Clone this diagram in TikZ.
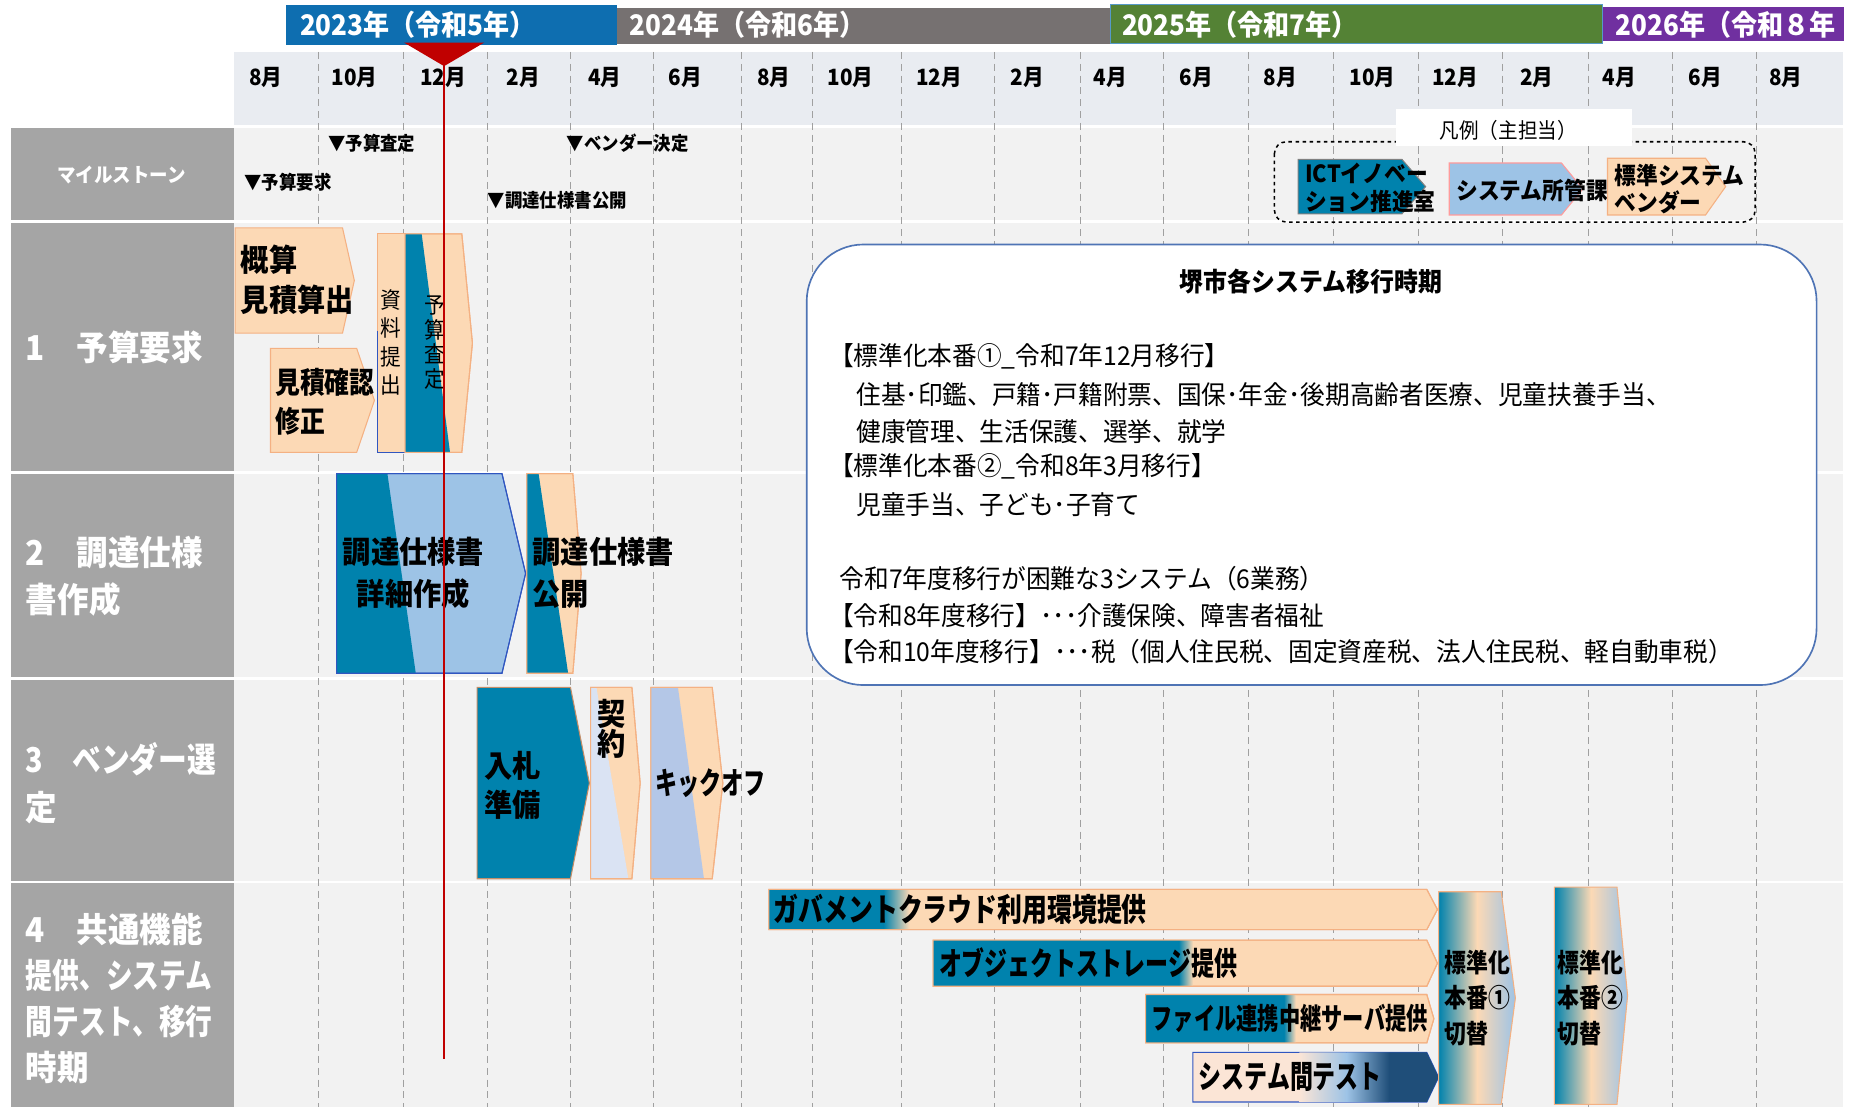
\documentclass[tikz,border=0pt]{standalone}
\usepackage{fontspec}
\setmainfont{Noto Sans CJK JP}
\newfontfamily\jpA[FakeStretch=0.92]{Noto Sans CJK JP}
\newfontfamily\jpB[FakeStretch=0.84]{Noto Sans CJK JP}
\newfontfamily\jpC[FakeStretch=0.78]{Noto Sans CJK JP}
\newfontfamily\jpD[FakeStretch=0.72]{Noto Sans CJK JP}
\newfontfamily\jpE[FakeStretch=0.95]{Noto Sans CJK JP}
\newcommand\fs[2]{\fontsize{#1}{#2}\selectfont}
\definecolor{cTeal}{HTML}{0082AD}
\definecolor{cPeach}{HTML}{FCD9B5}
\definecolor{cPeachL}{HTML}{FBE5D6}
\definecolor{cOrange}{HTML}{F4B183}
\definecolor{cLblue}{HTML}{9DC3E6}
\definecolor{cPink}{HTML}{FF9B9B}
\definecolor{cGrayLab}{HTML}{A5A5A5}
\definecolor{cBg}{HTML}{F2F2F2}
\definecolor{cBand}{HTML}{E9ECF1}
\definecolor{cRed}{HTML}{C00000}
\definecolor{cNavy}{HTML}{1F4E79}
\definecolor{cLav}{HTML}{DAE3F3}
\definecolor{cBgray}{HTML}{B4C7E7}
\definecolor{cBanBlue}{HTML}{0E6EB0}
\definecolor{cBanGray}{HTML}{767171}
\definecolor{cBanGreen}{HTML}{548235}
\definecolor{cBanPurple}{HTML}{7030A0}
\definecolor{cGrid}{HTML}{A0A0A0}
\definecolor{cBoxBorder}{HTML}{4F74B5}
\definecolor{cBlueEdge}{HTML}{3056C0}
\tikzset{
  tx/.style={inner sep=0pt, outer sep=0pt, anchor=west, align=left},
  banner/.style={tx, text=white, font=\jpA\bfseries\fs{24}{28}},
  month/.style={inner sep=0pt, font=\jpA\bfseries\fs{19}{22}},
  rowlab/.style={tx, text=white, font=\jpA\bfseries\fs{29}{40}},
  milelab/.style={inner sep=0pt, text=white, font=\jpA\bfseries\fs{17}{20}},
  mile/.style={tx, font=\jpA\bfseries\fs{16}{18}},
  boxtxt/.style={tx, font=\jpA\bfseries\fs{26}{34}},
  vtxt/.style={inner sep=0pt, align=center, font=\jpA\fs{19}{24}},
  legtxt/.style={tx, font=\jpA\bfseries\fs{20}{24}},
  bodytxt/.style={tx, font=\jpE\fs{22}{26}},
  gridln/.style={cGrid, line width=0.8, dash pattern=on 6pt off 4pt},
  pch/.style={fill=cPeach, draw=cOrange, line width=0.9},
  tealbox/.style={fill=cTeal, draw=cOrange!80!black, line width=0.9},
  lbbox/.style={fill=cLblue, draw=cBlueEdge, line width=0.9},
  bigbox/.style={fill=white, draw=cBoxBorder, line width=1.4, rounded corners=48},
}
\newcommand\chev[6]{\path[#1] (#2,#3) -- (#4,#3) -- (#6,{(#3+#5)/2}) -- (#4,#5) -- (#2,#5) -- cycle;}
\newcommand\chevsplit[9]{%
  \path[#1] (#2,#3) -- (#4,#3) -- (#6,{(#3+#5)/2}) -- (#4,#5) -- (#2,#5) -- cycle;
  \begin{scope}
    \clip (#2,#3) -- (#4,#3) -- (#6,{(#3+#5)/2}) -- (#4,#5) -- (#2,#5) -- cycle;
    \fill[#7] (#2,#3) -- (#8,#3) -- (#9,#5) -- (#2,#5) -- cycle;
  \end{scope}
  \path[#1,fill=none] (#2,#3) -- (#4,#3) -- (#6,{(#3+#5)/2}) -- (#4,#5) -- (#2,#5) -- cycle;}
\newcommand\chevbar[9]{%
  \path[#1] (#2,#3) -- (#4,#3) -- (#6,{(#3+#5)/2}) -- (#4,#5) -- (#2,#5) -- cycle;
  \begin{scope}
    \clip (#2,#3) -- (#4,#3) -- (#6,{(#3+#5)/2}) -- (#4,#5) -- (#2,#5) -- cycle;
    \fill[#7] (#2,#3) rectangle (#8,#5);
    \shade[left color=#7, right color=cPeach] (#8,#3) rectangle (#9,#5);
  \end{scope}
  \path[#1,fill=none] (#2,#3) -- (#4,#3) -- (#6,{(#3+#5)/2}) -- (#4,#5) -- (#2,#5) -- cycle;}
\newcommand\chevstd[5]{%
  \begin{scope}
    \clip (#1,#2) -- (#3,#2) -- (#5,{(#2+#4)/2}) -- (#3,#4) -- (#1,#4) -- cycle;
    \shade[left color=cTeal, right color=cLblue, middle color=cPeach] (#1,#2) rectangle (#5,#4);
  \end{scope}
  \draw[cOrange, line width=0.9] (#1,#2) -- (#3,#2) -- (#5,{(#2+#4)/2}) -- (#3,#4) -- (#1,#4) -- cycle;}
\begin{document}
\begin{tikzpicture}[x=1pt,y=-1pt]
\useasboundingbox (0,0) rectangle (1568,937);
\fill[white] (0,0) rectangle (1568,937);
% backgrounds
\fill[cBand] (198,44) rectangle (1560,106);
\fill[cBg] (198,108) rectangle (1560,186);
\fill[cBg] (198,189) rectangle (1560,399);
\fill[cBg] (198,401) rectangle (1560,573);
\fill[cBg] (198,576) rectangle (1560,746);
\fill[cBg] (198,748) rectangle (1560,937);
\fill[cGrayLab] (9,108) rectangle (198,186);
\fill[cGrayLab] (9,189) rectangle (198,399);
\fill[cGrayLab] (9,401) rectangle (198,573);
\fill[cGrayLab] (9,576) rectangle (198,746);
\fill[cGrayLab] (9,748) rectangle (198,937);
% grid
\foreach \gx in {270,342,413,483,553,628,688,763,842,915,985,1057,1129,1201,1272,1345,1416,1487}
  \draw[gridln] (\gx,44) -- (\gx,937);
% months
\foreach \mx/\mm [count=\mi] in {225/8,300/10,375/12,443/2,512/4,580/6,655/8,720/10,795/12,870/2,940/4,1013/6,1084/8,1162/10,1232/12,1301/2,1371/4,1444/6,1512/8}
  \node[month] (mon\mi) at (\mx,66) {\mm 月};
% banners
\fill[cBanBlue] (242,4) rectangle (522,38);
\fill[cBanGray] (522,7) rectangle (940,37);
\fill[cBanGreen] (940,4) rectangle (1357,37);
\fill[cBanPurple] (1357,6) rectangle (1561,35);
\draw[cBanBlue!70, line width=1] (940,4) rectangle (1357,37);
\node[banner] (b23) at (254,21) {2023年（令和5年）};
\node[banner] (b24) at (533,21) {2024年（令和6年）};
\node[banner] (b25) at (950,21) {2025年（令和7年）};
\node[banner] (b26) at (1368,21) {2026年（令和８年};
\fill[cRed] (342,36) -- (410,36) -- (376,56) -- cycle;
% row labels
\node[milelab] (lab0) at (103,148) {マイルストーン};
\node[rowlab] (lab1) at (22,294) {1　予算要求};
\node[rowlab] (lab2) at (22,488) {2　調達仕様\\書作成};
\node[rowlab] (lab3) at (22,663) {{\jpB 3　ベンダー選}\\定};
\node[rowlab, font=\jpA\bfseries\fs{29}{39}] (lab4) at (22,845) {4　共通機能\\{\jpC 提供、システム}\\{\jpC 間テスト、移行}\\時期};
% milestones
\node[mile] (ms1) at (278,121) {▼予算査定};
\node[mile] (ms2) at (480,121) {▼ベンダー決定};
\node[mile] (ms3) at (207,154) {▼予算要求};
\node[mile] (ms4) at (413,170) {▼調達仕様書公開};
% legend
\draw[dashed, line width=1.3, rounded corners=10] (1079,120) rectangle (1486,188);
\fill[white] (1182,92) rectangle (1382,124);
\node[inner sep=0pt, font=\jpA\fs{18}{20}] (legt) at (1277,110) {凡例（主担当）};
\chev{fill=cTeal, draw=gray, line width=0.9}{1099}{135}{1187}{181}{1207}
\node[legtxt] (leg1) at (1105,159) {ICTイノベー\\ション推進室};
\chev{fill=cLblue, draw=cPink, line width=0.9}{1227}{138}{1322}{182}{1340}
\node[legtxt] (leg2) at (1233,161) {システム所管課};
\chev{pch}{1361}{134}{1444}{182}{1461}
\node[legtxt, font=\jpA\bfseries\fs{20}{23}] (leg3) at (1367,160) {標準システム\\ベンダー};
% big box
\draw[bigbox] (683,207) rectangle (1538,580);
\node[inner sep=0pt, font=\jpA\bfseries\fs{22}{26}] (bt) at (1110,238) {堺市各システム移行時期};
\node[bodytxt] (bx1) at (702,302) {【標準化本番①\_令和7年12月移行】};
\node[bodytxt] (bx2) at (725,334) {住基･印鑑、戸籍･戸籍附票、国保･年金･後期高齢者医療、児童扶養手当、};
\node[bodytxt] (bx3) at (725,365) {健康管理、生活保護、選挙、就学};
\node[bodytxt] (bx4) at (702,395) {【標準化本番②\_令和8年3月移行】};
\node[bodytxt] (bx5) at (725,427) {児童手当、子ども･子育て};
\node[bodytxt] (bx6) at (711,490) {令和7年度移行が困難な3システム（6業務）};
\node[bodytxt] (bx7) at (702,521) {【令和8年度移行】･･･介護保険、障害者福祉};
\node[bodytxt] (bx8) at (702,552) {【令和10年度移行】･･･税（個人住民税、固定資産税、法人住民税、軽自動車税）};
% row 1
\chev{pch}{199}{193}{290}{282}{300}
\node[boxtxt] (t1a) at (204,237) {概算\\見積算出};
\chev{pch}{229}{295}{302}{383}{317}
\node[boxtxt, font=\jpB\bfseries\fs{25}{33}] (t1b) at (233,340) {見積確認\\修正};
\path[pch] (320,198) rectangle (343,383);
\draw[cBlueEdge, line width=0.9] (320,280) -- (320,383) -- (343,383);
\node[vtxt] (t1c) at (331,290) {資\\料\\提\\出};
\chevsplit{pch}{343}{198}{391}{383}{400}{cTeal}{357}{381}
\node[vtxt, font=\jpA\fs{19}{21}] (t1d) at (368,290) {予\\算\\査\\定};
% row 2
\chevsplit{lbbox}{285}{401}{425}{570}{445}{cTeal}{328}{352}
\node[boxtxt, align=center, anchor=center, font=\jpA\bfseries\fs{26}{35}] (t2a) at (350,485) {調達仕様書\\詳細作成};
\chevsplit{pch}{446}{401}{485}{570}{492}{cTeal}{456}{481}
\node[boxtxt, font=\jpA\bfseries\fs{26}{35}] (t2b) at (451,485) {調達仕様書\\公開};
% row 3
\chev{tealbox}{404}{582}{483}{744}{499}
\node[boxtxt, font=\jpA\bfseries\fs{26}{33}] (t3a) at (410,665) {入札\\準備};
\chevsplit{pch}{500}{582}{535}{744}{542}{cLav}{505}{532}
\node[boxtxt, align=center, anchor=center, font=\jpA\bfseries\fs{26}{26}] (t3b) at (518,617) {契\\約};
\chevsplit{pch}{551}{582}{603}{744}{612}{cBgray}{574}{596}
\node[boxtxt, font=\jpD\bfseries\fs{26}{30}] (t3c) at (555,663) {キックオフ};
% row 4
\chevbar{pch}{651}{753}{1208}{787}{1217}{cTeal}{748}{770}
\node[boxtxt, font=\jpC\bfseries\fs{27}{30}] (t4a) at (655,770) {ガバメントクラウド利用環境提供};
\chevbar{pch}{790}{796}{1208}{835}{1217}{cTeal}{998}{1010}
\node[boxtxt, font=\jpD\bfseries\fs{27}{30}] (t4b) at (795,815) {オブジェクトストレージ提供};
\chevbar{pch}{970}{842}{1208}{883}{1214}{cTeal}{1087}{1097}
\node[boxtxt, font=\jpD\bfseries\fs{25}{28}] (t4c) at (975,862) {ファイル連携中継サーバ提供};
\path[fill=cPeachL, draw=cBlueEdge, line width=0.9] (1010,891) -- (1208,891) -- (1218,912) -- (1208,933) -- (1010,933) -- cycle;
\begin{scope}
  \clip (1010,891) -- (1208,891) -- (1218,912) -- (1208,933) -- (1010,933) -- cycle;
  \shade[left color=cPeachL, right color=cLblue] (1100,891) rectangle (1140,933);
  \shade[left color=cLblue, right color=cNavy] (1140,891) rectangle (1176,933);
  \fill[cNavy] (1176,891) rectangle (1220,933);
\end{scope}
\node[boxtxt, font=\jpD\bfseries\fs{27}{30}] (t4d) at (1015,912) {システム間テスト};
\chevstd{1218}{755}{1271}{935}{1283}
\node[boxtxt, font=\jpB\bfseries\fs{22}{30}] (t4e) at (1223,845) {標準化\\本番①\\切替};
\chevstd{1316}{751}{1369}{935}{1378}
\node[boxtxt, font=\jpB\bfseries\fs{22}{30}] (t4f) at (1319,845) {標準化\\本番②\\切替};
% red line
\coordinate (rtop) at (376,37);
\coordinate (rbot) at (376,897);
\draw[cRed, line width=2] (rtop) -- (rbot);
\end{tikzpicture}
\end{document}
